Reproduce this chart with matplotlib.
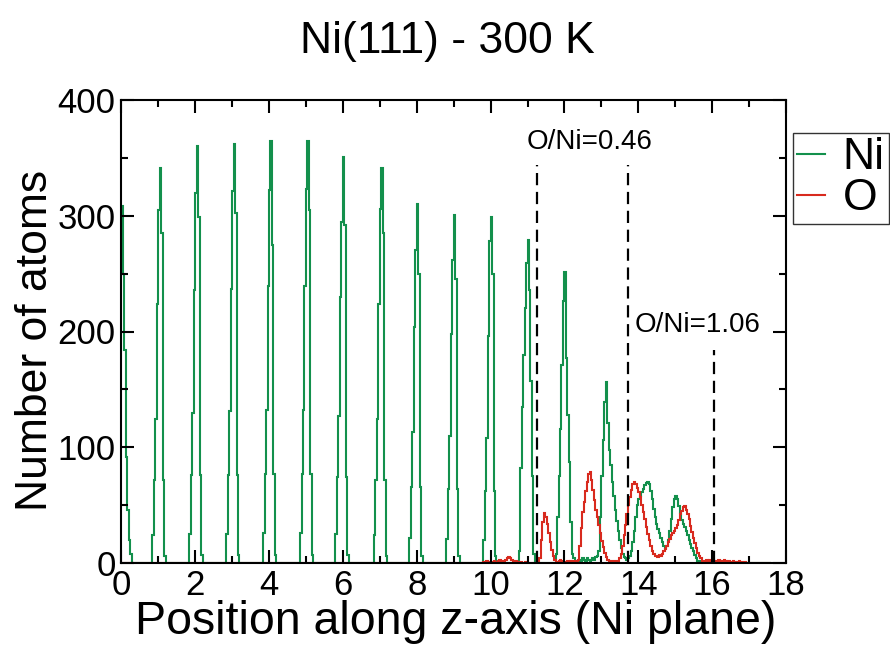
import numpy as np
import matplotlib
matplotlib.use("Agg")
import matplotlib.pyplot as plt
from matplotlib.ticker import MultipleLocator

plt.rcParams['font.family'] = ['Liberation Sans', 'DejaVu Sans']

# histogram bin width along z (Ni plane units)
BIN = 0.04

# Ni counts: (left edge of first bin, counts per bin)
NI_SEGMENTS = [
    (-0.08, [150, 290, 308, 250, 184, 92, 46, 20, 8]),
    (0.82, [24, 72, 124, 224, 305, 341, 285, 72, 6]),
    (1.83, [25, 76, 130, 236, 320, 360, 299, 76, 7]),
    (2.82, [25, 76, 131, 237, 321, 362, 302, 76, 7]),
    (3.83, [26, 77, 132, 239, 322, 365, 275, 77, 7]),
    (4.82, [26, 77, 132, 239, 323, 365, 305, 77, 7]),
    (5.82, [25, 74, 127, 230, 295, 351, 292, 74, 7]),
    (6.84, [24, 72, 124, 224, 306, 341, 285, 72, 6]),
    (7.82, [22, 66, 113, 204, 270, 310, 250, 66, 6]),
    (8.82, [21, 64, 110, 198, 262, 301, 245, 64, 6]),
    (9.81, [20, 62, 108, 196, 278, 299, 250, 62, 6]),
    (10.77, [10, 82, 135, 180, 220, 259, 279, 236, 157, 75, 8]),
    (11.76, [8, 40, 75, 116, 171, 226, 251, 177, 128, 87, 35, 8]),
    (12.24, [4, 2, 1, 2, 3, 2, 4, 3, 2, 4,
             3, 2, 3, 4, 3, 5, 6, 10, 40, 75,
             106, 139, 156, 121, 98, 85, 70, 58, 46, 36,
             28, 20, 13, 8, 5, 4, 3, 4, 6, 10,
             18, 28, 40, 50, 55, 58, 61, 64, 67, 69,
             70, 68, 62, 55, 47, 40, 34, 29, 26, 22,
             18, 15, 13, 15, 20, 28, 38, 48, 55, 58,
             55, 49, 43, 37, 34, 31, 28, 24, 20, 16,
             13, 10, 7, 4, 2, 1, 2, 1, 0, 1,
             2, 1, 1, 2, 1, 0, 1, 0, 1, 0]),
]

# O counts
O_SEGMENTS = [
    (9.80, [1, 0, 2, 1, 0, 0, 1, 2, 1, 0, 2, 3, 2, 1, 2, 3, 4, 5, 4, 3,
            2, 1, 2, 1, 0, 1, 0, 0, 1, 1]),
    (11.34, [4, 20, 35, 43, 40, 34, 26, 18, 11, 6, 3, 1, 1, 2, 3, 2, 1, 0, 1, 2,
             1, 2, 1, 2, 1, 2]),
    (12.38, [3, 15, 30, 44, 53, 62, 70, 77, 79, 72, 63, 54, 46, 40, 33, 26, 19, 14, 9, 5,
             3, 2, 1, 2, 1, 2]),
    (13.42, [1, 2, 4, 8, 15, 24, 33, 42, 50, 57,
             63, 68, 70, 68, 65, 61, 57, 50, 44, 38,
             31, 25, 20, 15, 10, 8, 6, 6, 5, 7,
             6, 8, 10, 12, 15, 18, 21, 24, 26, 28,
             30, 33, 37, 42, 45, 48, 49, 46, 42, 38,
             32, 27, 22, 17, 13, 9, 6, 4, 2, 1,
             2, 3, 2, 3, 2, 3, 2, 1, 2, 3,
             2, 1, 2, 3, 2, 1, 2, 1, 1, 2,
             1, 0, 1, 2, 1, 1, 0, 1, 0, 0]),
]

SERIES_NAMES = ["Ni", "O"]
SERIES_COLORS = ["#13904c", "#d82a1e"]

DIVIDER_X = [11.27, 13.71, 16.04]
DIVIDER_TOP = [344, 344, 184]
RATIO_LABELS = ["O/Ni=0.46", "O/Ni=1.06"]
RATIO_X = [12.68, 15.6]
RATIO_Y = [364, 206]

X_EDGES = np.arange(-0.2, 17.6 + BIN / 2, BIN)


def build_counts(segments):
    counts = np.zeros(len(X_EDGES) - 1)
    for start, vals in segments:
        i = int(round((start - X_EDGES[0]) / BIN))
        counts[i:i + len(vals)] += vals
    return counts


fig = plt.figure(figsize=(8.9, 6.49), dpi=100)
ax = fig.add_axes([121.3 / 890, 1 - 563 / 649, (786 - 121.3) / 890, (563 - 100) / 649])

handles = []
for segs, name, col in zip([NI_SEGMENTS, O_SEGMENTS], SERIES_NAMES, SERIES_COLORS):
    ax.stairs(build_counts(segs), X_EDGES, color=col, lw=1.5, label=name)
    handles.append(plt.Line2D([], [], color=col, lw=1.5))

for x, top in zip(DIVIDER_X, DIVIDER_TOP):
    ax.plot([x, x], [0, top], color="black", lw=1.6, linestyle=(0, (5.5, 3)))

for txt, x, y in zip(RATIO_LABELS, RATIO_X, RATIO_Y):
    ax.text(x, y, txt, fontsize=20, ha="center", va="center")

ax.set_xlim(0, 18)
ax.set_ylim(0, 400)
ax.xaxis.set_major_locator(MultipleLocator(2))
ax.xaxis.set_minor_locator(MultipleLocator(1))
ax.yaxis.set_major_locator(MultipleLocator(100))
ax.yaxis.set_minor_locator(MultipleLocator(50))
ax.tick_params(which="both", direction="in", top=True, right=True, width=1.5, labelsize=25)
ax.tick_params(which="major", length=9.5, pad=4)
ax.tick_params(which="minor", length=5)
for s in ax.spines.values():
    s.set_linewidth(1.5)

fig.text(447.5 / 890, 1 - 42 / 649, "Ni(111) - 300 K", fontsize=32, ha="center", va="center")
fig.text(456 / 890, 1 - 622 / 649, "Position along z-axis (Ni plane)", fontsize=33.5,
         ha="center", va="center")
fig.text(36 / 890, 1 - 340 / 649, "Number of atoms", fontsize=32, rotation=90,
         ha="center", va="center")

leg = fig.legend(handles, SERIES_NAMES, loc="upper left",
                 bbox_to_anchor=(793 / 890, 1 - 133 / 649), borderaxespad=0,
                 fontsize=32, handlelength=0.62, handletextpad=0.4, borderpad=0.1,
                 labelspacing=0.0, fancybox=False, framealpha=1)
leg.get_frame().set_edgecolor("#333333")
leg.get_frame().set_linewidth(1)

fig.savefig("out.png", dpi=100)
